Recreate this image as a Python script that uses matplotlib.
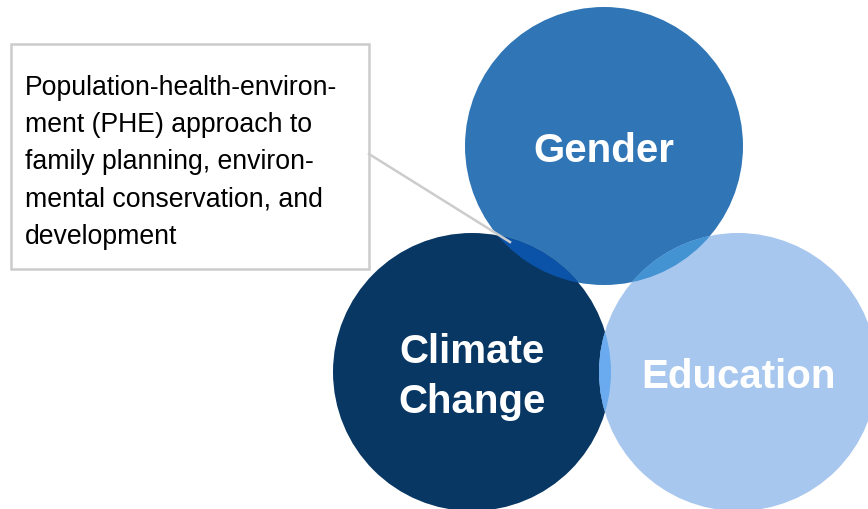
import matplotlib.pyplot as plt
from matplotlib.patches import Circle, Rectangle

# circles: label, center (px), radius, colour
labels = ['Gender', 'Climate\nChange', 'Education']
centers = [(604, 147), (472, 373), (738, 373)]
radius = 139
colors = ['#3075b5', '#083764', '#a7c7ee']
# colour of the overlap between two circles
overlap_colors = {(0, 1): '#0b52a9', (0, 2): '#4393d3', (1, 2): '#6aaaee'}

note = ('Population-health-environ-\nment (PHE) approach to\n'
        'family planning, environ-\nmental conservation, and\ndevelopment')

fig = plt.figure(figsize=(8.68, 5.1), dpi=100)
ax = fig.add_axes([0, 0, 1, 1])
ax.set_xlim(0, 868)
ax.set_ylim(510, 0)
ax.set_aspect('equal')
ax.axis('off')

circles = []
for c, col in zip(centers, colors):
    p = Circle(c, radius, facecolor=col, edgecolor='none', zorder=1)
    ax.add_patch(p)
    circles.append(p)

# overlaps: draw circle j again, clipped to circle i
for (i, j), col in overlap_colors.items():
    p = Circle(centers[j], radius, facecolor=col, edgecolor='none', zorder=2)
    ax.add_patch(p)
    p.set_clip_path(circles[i])

# note box and connector
ax.add_patch(Rectangle((11, 45), 358, 225, facecolor='white',
                       edgecolor='#cccccc', lw=1.8, zorder=3))
ax.plot([369, 510], [155, 243], color='#cccccc', lw=1.8, zorder=3)
ax.text(25, 75, note, fontsize=19.2, family='Liberation Sans', color='black',
        va='top', ha='left', linespacing=1.56, zorder=4)

for lab, c in zip(labels, centers):
    ax.text(c[0], c[1] + 4, lab, fontsize=29, fontweight='bold', family='Liberation Sans',
            color='white', ha='center', va='center', linespacing=1.37, zorder=5)

fig.savefig('out.png', dpi=100)
